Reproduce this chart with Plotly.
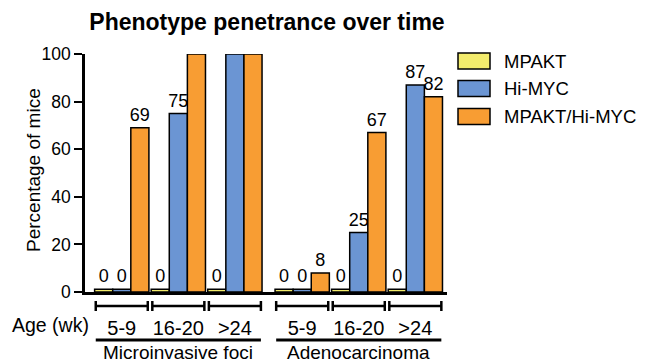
import plotly.graph_objects as go

# ---- data ----
phenotypes = ["Microinvasive foci", "Adenocarcinoma"]
ages = ["5-9", "16-20", ">24"]
series_names = ["MPAKT", "Hi-MYC", "MPAKT/Hi-MYC"]
mpakt = [0, 0, 0, 0, 0, 0]
himyc = [0, 75, 100, 0, 25, 87]
combo = [69, 100, 100, 8, 67, 82]
y_ticks = [0, 20, 40, 60, 80, 100]

# ---- style ----
colors = ["#F3EC6C", "#6B95D3", "#F89D33"]
FONT = "Liberation Sans, Arial, Helvetica, sans-serif"
GROUP_GAP = 0.19      # extra spacing between phenotype blocks (in cluster units)
STUB = 1.2            # visible height used to draw a zero-valued bar
HALF = 0.46           # half width of the bracket under each age cluster

W, H = 645, 364
ML, MR, MT, MB = 85, 198, 54, 72
PW, PH = W - ML - MR, H - MT - MB

def py(ypix):   # pixel y -> paper y
    return (H - MB - ypix) / PH

def px(xpix):   # pixel x -> paper x
    return (xpix - ML) / PW

positions = [g * (len(ages) + GROUP_GAP) + t
             for g in range(len(phenotypes)) for t in range(len(ages))]
tick_text = [a for _ in phenotypes for a in ages]

fig = go.Figure()
for name, vals, col in zip(series_names, [mpakt, himyc, combo], colors):
    fig.add_trace(go.Bar(
        x=positions,
        y=[v if v > 0 else STUB for v in vals],
        name=name,
        marker=dict(color=col, line=dict(color="black", width=1.5)),
        text=[str(v) if v < 100 else "" for v in vals],
        textposition="outside",
        textfont=dict(family=FONT, size=18, color="black"),
        constraintext="none",
        cliponaxis=False,
        showlegend=False,
        hovertemplate=name + ": %{text}<extra></extra>",
    ))

shapes = []
annotations = []
# brackets under each cluster
yb = py(306)
cap = 5 / PH
for p in positions:
    shapes.append(dict(type="line", xref="x", yref="paper", x0=p - HALF, x1=p + HALF,
                       y0=yb, y1=yb, line=dict(color="black", width=2.5)))
    for e in (p - HALF, p + HALF):
        shapes.append(dict(type="line", xref="x", yref="paper", x0=e, x1=e,
                           y0=yb - cap, y1=yb + cap, line=dict(color="black", width=2.5)))
# phenotype underlines and labels
yu = py(340)
for g, ph in enumerate(phenotypes):
    p0 = positions[g * len(ages)]
    p1 = positions[g * len(ages) + len(ages) - 1]
    shapes.append(dict(type="line", xref="x", yref="paper", x0=p0 - HALF, x1=p1 + HALF,
                       y0=yu, y1=yu, line=dict(color="black", width=3)))
    annotations.append(dict(text=ph, xref="x", yref="paper", x=(p0 + p1) / 2, y=py(352),
                            xanchor="center", yanchor="middle", showarrow=False,
                            font=dict(family=FONT, size=19, color="black")))
annotations.append(dict(text="Age (wk)", xref="paper", yref="paper", x=px(91), y=py(325),
                        xanchor="right", yanchor="middle", showarrow=False,
                        font=dict(family=FONT, size=19.5, color="black")))
# y axis title
annotations.append(dict(text="Percentage of mice", xref="paper", yref="paper",
                        x=px(33), y=py(170), textangle=-90,
                        xanchor="center", yanchor="middle", showarrow=False,
                        font=dict(family=FONT, size=19, color="black")))

# custom legend (wide swatches)
leg_y = [61, 88.5, 116.5]
for name, col, yc in zip(series_names, colors, leg_y):
    shapes.append(dict(type="rect", xref="paper", yref="paper",
                       x0=px(458), x1=px(490), y0=py(yc + 8), y1=py(yc - 8),
                       fillcolor=col, line=dict(color="black", width=1.5)))
    annotations.append(dict(text=name, xref="paper", yref="paper", x=px(502), y=py(yc),
                            xanchor="left", yanchor="middle", showarrow=False,
                            font=dict(family=FONT, size=18.5, color="black")))

fig.update_layout(
    width=W, height=H,
    margin=dict(l=ML, r=MR, t=MT, b=MB, pad=0, autoexpand=False),
    paper_bgcolor="white", plot_bgcolor="white",
    barmode="group", bargap=0.04, bargroupgap=0,
    title=dict(text="<b>Phenotype penetrance over time</b>", x=px(267), xref="paper",
               xanchor="center", y=1 - 22 / H, yref="container", yanchor="middle",
               font=dict(family=FONT, size=23, color="black")),
    font=dict(family=FONT, color="black"),
    shapes=shapes, annotations=annotations,
    xaxis=dict(range=[-0.65, positions[-1] + 0.56], tickmode="array",
               tickvals=positions, ticktext=tick_text,
               ticks="outside", ticklen=16, tickcolor="rgba(0,0,0,0)",
               tickfont=dict(family=FONT, size=20, color="black"),
               showline=True, linecolor="black", linewidth=2.5,
               showgrid=False, zeroline=False, fixedrange=True),
    yaxis=dict(range=[0, 100], tickmode="array", tickvals=y_ticks,
               ticks="outside", ticklen=8, tickwidth=2, tickcolor="black",
               tickfont=dict(family=FONT, size=17.5, color="black"),
               showline=True, linecolor="black", linewidth=2.5,
               showgrid=False, zeroline=False),
)

fig.write_html(
    "out.html",
    config={"displayModeBar": False},
    post_script="document.body.style.margin='0';document.body.style.padding='0';",
)
